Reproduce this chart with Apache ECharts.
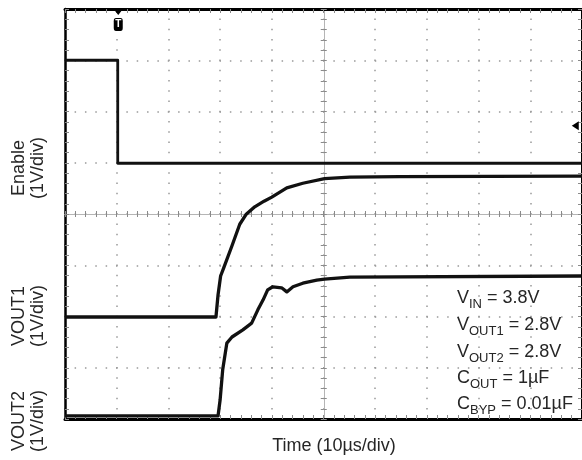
<!DOCTYPE html>
<html>
<head>
<meta charset="utf-8">
<title>Enable to VOUT1 / VOUT2 start-up</title>
<script src="https://cdn.jsdelivr.net/npm/echarts@6/dist/echarts.min.js"></script>
<style>
  html, body { margin: 0; padding: 0; background: #fff; }
  #chart { width: 582px; height: 460px; }
</style>
</head>
<body>
<div id="chart"></div>
<script>
// scope screen in divisions: x = time div (10us/div), y = volt div (1V/div)
const xDivs = 10;
const yDivs = 8;

// traces, [time div, volt div]
const enableTrace = [[0, 7.0], [1.02, 7.0], [1.02, 4.99], [10, 4.99]];
const vout1Trace = [
  [0, 1.99], [2.92, 1.99], [2.96, 2.42], [3.01, 2.79], [3.07, 2.95],
  [3.23, 3.38], [3.38, 3.80], [3.50, 3.99], [3.67, 4.14], [3.85, 4.25],
  [4.00, 4.33], [4.29, 4.51], [4.60, 4.60], [5.02, 4.69], [5.51, 4.72],
  [6.47, 4.73], [10, 4.74]
];
const vout2Trace = [
  [0, 0.06], [2.96, 0.06], [3.00, 0.37], [3.05, 0.96], [3.13, 1.48],
  [3.23, 1.60], [3.44, 1.74], [3.61, 1.87], [3.73, 2.13], [3.83, 2.32],
  [3.92, 2.52], [4.02, 2.58], [4.19, 2.56], [4.29, 2.48], [4.41, 2.58],
  [4.60, 2.65], [4.87, 2.71], [5.02, 2.73], [5.51, 2.77], [10, 2.79]
];

// trigger markers
const triggerTime = 1.03;
const triggerLevel = 5.72;

// test conditions box
const conditionLines = [
  '{m|V}{s|IN}{m| = 3.8V}',
  '{m|V}{s|OUT1}{m| = 2.8V}',
  '{m|V}{s|OUT2}{m| = 2.8V}',
  '{m|C}{s|OUT}{m| = 1µF}',
  '{m|C}{s|BYP}{m| = 0.01µF}'
];
const channelLabels = ['Enable\n(1V/div)', 'VOUT1\n(1V/div)', 'VOUT2\n(1V/div)'];
const timeLabel = 'Time (10µs/div)';

const FONT = '"Liberation Sans", Arial, sans-serif';
const TEXT = '#262626';
const TRACE = '#111';
const tickGray = '#8a8a8a';
const dotGray = '#999';

const chart = echarts.init(document.getElementById('chart'));

// one axis of the scope frame; border or center crosshair
function scopeAxis(dim, position, opts) {
  const ax = {
    type: 'value',
    position: position,
    min: 0,
    max: dim === 'x' ? xDivs : yDivs,
    interval: 1,
    offset: opts.offset || 0,
    axisLine: { show: true, onZero: false, lineStyle: { color: opts.lineColor, width: opts.lineWidth } },
    axisTick: { show: true, inside: opts.inside, length: opts.tick, lineStyle: { color: tickGray } },
    minorTick: { show: true, splitNumber: 5, length: opts.tick, lineStyle: { color: tickGray } },
    axisLabel: { show: false },
    splitLine: { show: false },
    z: opts.z || 3
  };
  if (opts.dots) {
    ax.splitLine = {
      show: true,
      lineStyle: { color: dotGray, width: 1.5, type: opts.dots, dashOffset: 0.75 }
    };
  }
  return ax;
}

const rich = {
  m: { fontSize: 18, lineHeight: 20, verticalAlign: 'top', fontFamily: FONT, color: TEXT },
  s: { fontSize: 13, lineHeight: 13, verticalAlign: 'top', padding: [9, 0, 0, 0], fontFamily: FONT, color: TEXT }
};

const labelY = [168, 316, 421];
const condY = [298, 325, 352, 378, 404];

const graphics = [];
channelLabels.forEach(function (t, i) {
  graphics.push({
    type: 'text', x: 29, y: labelY[i], rotation: Math.PI / 2,
    style: { text: t, fontSize: 18, lineHeight: 19, fontFamily: FONT, fill: TEXT, align: 'center', verticalAlign: 'middle' }
  });
});
graphics.push({
  type: 'text', x: 334, y: 446,
  style: { text: timeLabel, fontSize: 18, fontFamily: FONT, fill: TEXT, align: 'center', verticalAlign: 'middle' }
});
conditionLines.forEach(function (t, i) {
  graphics.push({
    type: 'text', x: 457, y: condY[i] + 1, z: 10,
    style: { text: t, rich: rich, align: 'left', verticalAlign: 'middle', fill: TEXT }
  });
});

function traceSeries(name, data, width) {
  return {
    name: name, type: 'line', data: data, xAxisIndex: 0, yAxisIndex: 0,
    showSymbol: false, animation: false, z: 5,
    lineStyle: { color: TRACE, width: width, join: 'round' }
  };
}

const enableSeries = traceSeries('Enable', enableTrace, 2.8);
enableSeries.markPoint = {
  animation: false,
  label: { show: false },
  data: [
    { coord: [triggerTime, 7.95], symbol: 'triangle', symbolRotate: 180, symbolSize: [11, 7], itemStyle: { color: '#000' } },
    {
      coord: [triggerTime, 7.7], symbol: 'roundRect', symbolSize: [9, 13], itemStyle: { color: '#000' },
      label: { show: true, formatter: 'T', position: 'inside', color: '#fff', fontSize: 10, fontWeight: 'bold', fontFamily: FONT }
    },
    { coord: [9.87, triggerLevel], symbol: 'triangle', symbolRotate: 90, symbolSize: [9, 7], itemStyle: { color: '#000' } }
  ]
};

chart.setOption({
  animation: false,
  backgroundColor: '#fff',
  grid: { left: 65, top: 9, width: 517.5, height: 410 },
  xAxis: [
    scopeAxis('x', 'bottom', { lineColor: '#000', lineWidth: 3, inside: true, tick: 4, dots: [1.5, 8.75] }),
    scopeAxis('x', 'top', { lineColor: '#000', lineWidth: 3, inside: true, tick: 4 }),
    scopeAxis('x', 'bottom', { offset: -205, lineColor: '#b5b5b5', lineWidth: 1, inside: true, tick: 3 }),
    scopeAxis('x', 'bottom', { offset: -205, lineColor: '#b5b5b5', lineWidth: 1, inside: false, tick: 3 })
  ],
  yAxis: [
    scopeAxis('y', 'left', { lineColor: '#000', lineWidth: 2.5, inside: true, tick: 4, dots: [1.5, 8.85] }),
    scopeAxis('y', 'right', { lineColor: '#000', lineWidth: 2, inside: true, tick: 4 }),
    scopeAxis('y', 'left', { offset: -258.75, lineColor: '#b5b5b5', lineWidth: 1, inside: true, tick: 3 }),
    scopeAxis('y', 'left', { offset: -258.75, lineColor: '#b5b5b5', lineWidth: 1, inside: false, tick: 3 })
  ],
  graphic: graphics,
  series: [
    enableSeries,
    traceSeries('VOUT1', vout1Trace, 3.3),
    traceSeries('VOUT2', vout2Trace, 3.3)
  ]
});
</script>
</body>
</html>
